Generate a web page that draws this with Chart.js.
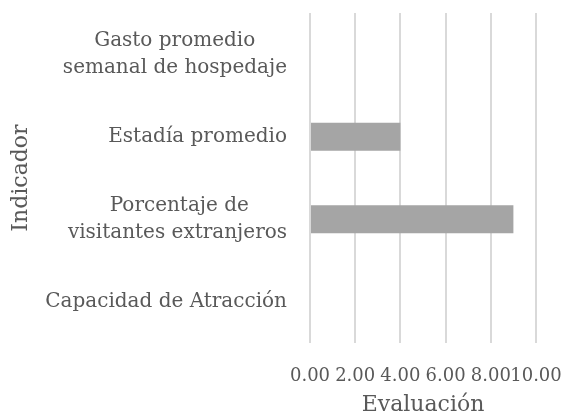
<!DOCTYPE html>
<html><head><meta charset="utf-8">
<script src="https://cdn.jsdelivr.net/npm/chart.js@4"></script>
<style>html,body{margin:0;padding:0;background:#fff}#w{width:561px;height:415px}</style>
</head><body><div id="w"><canvas id="c"></canvas></div>
<script>
const categories = [["Gasto promedio", "semanal de hospedaje"], "Estadía promedio", ["Porcentaje de", "visitantes extranjeros"], "Capacidad de Atracción"];
const values = [0, 4, 9, 0];
const xTicks = ["0.00", "2.00", "4.00", "6.00", "8.00", "10.00"];
const FONT = "'DejaVu Serif', serif";
const CAT_SIZE = 20;
const mctx = document.createElement('canvas').getContext('2d');
mctx.font = CAT_SIZE + "px " + FONT;
// center the lines of a multi-line label among themselves (labels stay right-aligned as a block)
function centerLines(lbl) {
  if (!Array.isArray(lbl)) return lbl;
  const widths = lbl.map(s => mctx.measureText(s).width);
  const maxW = Math.max(...widths);
  const sp = mctx.measureText(' ').width;
  return lbl.map((s, i) => s + ' '.repeat(Math.round((maxW - widths[i]) / 2 / sp)));
}
new Chart(document.getElementById('c'), {
  type: 'bar',
  data: { labels: categories, datasets: [{ data: values, backgroundColor: '#a5a5a5', categoryPercentage: 0.34, barPercentage: 1 }] },
  options: {
    indexAxis: 'y', responsive: true, maintainAspectRatio: false, animation: false,
    layout: { padding: { top: 13, right: 25, left: 8, bottom: 0 } },
    plugins: { legend: { display: false }, tooltip: { enabled: false } },
    scales: {
      x: { min: 0, max: 10,
        afterFit: s => { s.paddingLeft = 0; s.paddingRight = 0; s.paddingTop = 0; s.paddingBottom = 0; s.height = 72; },
        ticks: { stepSize: 2, autoSkip: false, maxRotation: 0, color: '#595959', font: { family: FONT, size: 18 }, padding: 23, callback: (v, i) => xTicks[i] },
        grid: { color: '#d9d9d9', lineWidth: 2, drawTicks: false }, border: { display: false },
        title: { display: true, text: 'Evaluación', color: '#595959', font: { family: FONT, size: 22, lineHeight: 0.85 }, padding: { top: 9, bottom: 0 } } },
      y: {
        afterFit: s => { s.paddingTop = 0; s.paddingBottom = 0; s.paddingLeft = 0; s.paddingRight = 0; s.width = 302; },
        ticks: { color: '#595959', font: { family: FONT, size: CAT_SIZE, lineHeight: 1.35 }, padding: 23,
          callback: function (v, i) { return centerLines(categories[i]); } },
        grid: { display: false, drawTicks: false }, border: { display: false },
        title: { display: true, text: 'Indicador', color: '#595959', font: { family: FONT, size: 22 }, padding: 0 } }
    }
  }
});
</script></body></html>
